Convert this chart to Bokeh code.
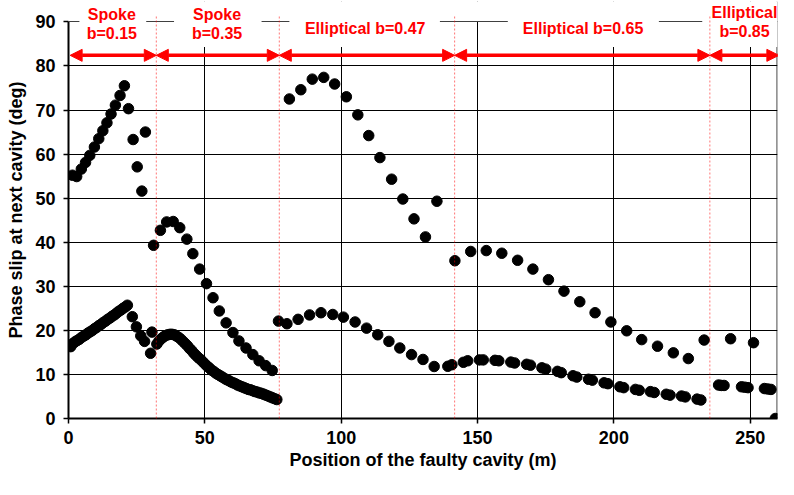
from bokeh.plotting import figure
from bokeh.models import Label, Arrow, NormalHead, FixedTicker, Span, BoxAnnotation
from bokeh.embed import file_html
from bokeh.resources import INLINE

# ---------------- data ----------------
# upper series (one point per cavity)
upper_x = [1.45, 3.0, 4.7, 6.25, 7.8, 9.5, 11.1, 12.6, 14.1, 15.6, 17.2, 18.9, 20.5, 22.0, 23.7, 25.2, 26.9, 28.2,
           31.2, 33.7, 36.0, 38.4, 40.8, 43.4, 45.6, 48.1, 50.6, 53.0, 55.3, 57.8, 60.3, 62.5, 65.1, 67.6, 69.9, 72.3, 74.7,
           81.0, 85.2, 89.4, 93.6, 97.6, 101.9, 106.1, 110.1, 114.2, 118.5, 122.6, 126.7, 130.9, 135.1, 141.7,
           147.5, 153.2, 158.9, 164.7, 170.3, 176.0, 181.7, 187.5, 193.1, 198.9, 204.7, 210.2, 216.0, 221.8, 227.3, 233.1,
           242.8, 251.2]
upper_y = [55.2, 54.9, 56.6, 58.1, 59.7, 61.6, 63.5, 65.3, 67.1, 69.1, 71.1, 73.3, 75.5, 70.3, 63.3, 57.1, 51.6, 65.0,
           39.3, 42.7, 44.6, 44.7, 43.3, 40.7, 37.4, 33.9, 30.6, 27.4, 24.4, 21.7, 19.5, 17.6, 16.0, 14.5, 13.1, 12.0, 10.9,
           72.5, 74.6, 77.0, 77.4, 75.9, 73.0, 68.9, 64.2, 59.2, 54.3, 49.8, 45.3, 41.2, 49.3, 35.8,
           37.9, 38.1, 37.5, 35.9, 33.9, 31.5, 28.9, 26.5, 24.0, 21.9, 19.9, 17.9, 16.4, 14.9, 13.6, 17.8,
           18.1, 17.2]

# lower series, spoke b=0.15
low1_x = [0.8, 1.6, 2.4, 3.2, 4.0, 4.8, 5.6, 6.4, 7.2, 8.0, 8.8, 9.6, 10.4, 11.2, 12.0, 12.8, 13.6, 14.4,
          15.2, 16.0, 16.8, 17.6, 18.4, 19.2, 20.0, 20.8, 21.6, 23.4, 24.9, 26.5, 27.9, 30.1, 30.6]
low1_y = [16.3, 17.0, 17.4, 17.7, 18.0, 18.4, 18.7, 19.0, 19.4, 19.7, 20.0, 20.4, 20.7, 21.1, 21.4, 21.8, 22.1, 22.5,
          22.8, 23.2, 23.5, 23.9, 24.3, 24.6, 25.0, 25.3, 25.7, 23.1, 20.8, 18.75, 17.5, 14.8, 19.6]

# lower series, spoke b=0.35
low2_x = [32.4, 33.2, 34.0, 34.8, 35.6, 36.4, 37.2, 38.0, 38.8, 39.6, 40.4, 41.2, 42.0, 42.8, 43.6, 44.4,
          45.2, 46.0, 46.8, 47.6, 48.4, 49.2, 50.0, 50.8, 51.6, 52.4, 53.2, 54.0, 54.8, 55.6, 56.4, 57.2,
          58.0, 58.8, 59.6, 60.4, 61.2, 62.0, 62.8, 63.6, 64.4, 65.2, 66.0, 66.8, 67.6, 68.4, 69.2, 70.0,
          70.8, 71.6, 72.4, 73.2, 74.0, 74.8, 75.6, 76.4]
low2_y = [16.9, 17.6, 18.1, 18.5, 18.8, 19.0, 19.1, 19.1, 19.0, 18.7, 18.4, 18.0, 17.5, 17.0, 16.5, 15.9,
          15.4, 14.8, 14.3, 13.8, 13.4, 12.9, 12.4, 11.9, 11.5, 11.0, 10.7, 10.3, 10.0, 9.7, 9.4, 9.1,
          8.8, 8.6, 8.3, 8.1, 7.9, 7.6, 7.4, 7.2, 7.0, 6.8, 6.6, 6.5, 6.3, 6.1, 6.0, 5.8,
          5.7, 5.5, 5.3, 5.1, 4.9, 4.7, 4.5, 4.3]

# lower series, elliptical b=0.47
low3_x = [77.0, 80.1, 84.2, 88.4, 92.6, 96.9, 100.8, 105.1, 109.3, 113.4, 117.5, 121.5, 125.8, 130.0, 134.1]
low3_y = [22.1, 21.5, 22.5, 23.5, 24.0, 23.6, 23.0, 21.9, 20.5, 19.0, 17.5, 16.0, 14.5, 13.4, 11.8]

# lower series, elliptical b=0.65
low4_x = [139.1, 140.6, 144.8, 146.4, 150.7, 152.1, 156.4, 157.8, 162.2, 163.6, 168.0, 169.4, 173.6, 175.0,
          179.3, 180.7, 185.0, 186.4, 190.7, 192.1, 196.4, 197.8, 202.2, 203.6, 207.9, 209.3, 213.4, 214.8,
          219.2, 220.6, 224.8, 226.2, 230.5, 231.9]
low4_y = [11.85, 12.2, 12.75, 13.1, 13.3, 13.3, 13.2, 13.1, 12.8, 12.6, 12.3, 12.1, 11.5, 11.2,
          10.7, 10.4, 9.7, 9.4, 8.9, 8.7, 8.1, 7.9, 7.2, 7.0, 6.6, 6.4, 6.1, 5.9,
          5.5, 5.3, 5.1, 4.9, 4.4, 4.2]

# lower series, elliptical b=0.85
low5_x = [238.4, 239.4, 240.4, 246.8, 248.0, 249.2, 255.2, 256.4, 257.6, 259.2]
low5_y = [7.6, 7.5, 7.5, 7.2, 7.1, 7.0, 6.8, 6.7, 6.6, 0.0]

# sections
boundaries = [32.2, 77.3, 141.6, 235.2]
boundary_top = 91.45
arrow_starts = [0.6, 32.2, 77.3, 141.6, 235.2]
arrow_ends = [32.2, 77.3, 141.6, 235.2, 260.5]
label_line1 = ["Spoke", "Spoke", "Elliptical b=0.47", "Elliptical b=0.65", "Elliptical"]
label_line2 = ["b=0.15", "b=0.35", "", "", "b=0.85"]
label_x = [15.9, 54.5, 108.8, 188.7, 247.9]
label_y1 = [91.68, 91.68, 88.43, 88.43, 92.13]
label_y2 = [87.37, 87.37, None, None, 87.82]
box_left = [4.0, 38.7, 81.0, 161.1, 232.4]
box_right = [28.5, 70.8, 136.2, 216.5, 260.0]
box_bottom = 84.3
arrow_level = 82.4

x_ticks = [0, 50, 100, 150, 200, 250]
y_ticks = [0, 10, 20, 30, 40, 50, 60, 70, 80, 90]
Y_TOP = 94.62

# ---------------- figure ----------------
FONT = "Liberation Sans"
p = figure(width=778, height=479, x_range=(0, 260), y_range=(0, Y_TOP),
           output_backend="svg", toolbar_location=None,
           min_border_left=68, min_border_right=1, min_border_top=1, min_border_bottom=61)
p.background_fill_color = "white"
p.border_fill_color = "white"
p.outline_line_color = None

for ax in (p.xaxis[0], p.yaxis[0]):
    ax.axis_line_width = 2
    ax.axis_line_color = "black"
    ax.major_tick_out = 5
    ax.major_tick_in = 0
    ax.major_tick_line_width = 1.5
    ax.major_tick_line_color = "black"
    ax.minor_tick_line_color = None
    ax.major_label_text_font = FONT
    ax.major_label_text_font_size = "18px"
    ax.major_label_text_font_style = "bold"
    ax.major_label_text_color = "black"
    ax.axis_label_text_font = FONT
    ax.axis_label_text_font_size = "18px"
    ax.axis_label_text_font_style = "bold"
    ax.axis_label_text_color = "black"

p.xaxis.ticker = FixedTicker(ticks=x_ticks)
p.yaxis.ticker = FixedTicker(ticks=y_ticks)
p.yaxis.bounds = (0, 90)
p.xaxis.major_label_standoff = 7
p.yaxis.major_label_standoff = 8
p.xaxis.axis_label = "Position of the faulty cavity (m)"
p.yaxis.axis_label = "Phase slip at next cavity (deg)"
p.xaxis.axis_label_standoff = 3
p.yaxis.axis_label_standoff = 6

p.xgrid.grid_line_color = "black"
p.ygrid.grid_line_color = "black"
p.xgrid.grid_line_width = 1
p.ygrid.grid_line_width = 1

# right edge of the plot area
p.add_layout(Span(location=259.85, dimension="height", line_color="black", line_width=1))

# data points
for xs, ys in ((upper_x, upper_y), (low1_x, low1_y), (low2_x, low2_y), (low3_x, low3_y),
               (low4_x, low4_y), (low5_x, low5_y)):
    p.scatter(xs, ys, marker="circle", size=10.5, fill_color="black", line_color="black")

# blank the area above the 90 deg line
p.add_layout(BoxAnnotation(left=0, right=260, bottom=90.12, top=Y_TOP, fill_color="white", fill_alpha=1,
                           line_color=None))
# white boxes behind the section labels (hide grid lines there)
for bl, br in zip(box_left, box_right):
    p.add_layout(BoxAnnotation(left=bl, right=br, bottom=box_bottom, top=Y_TOP, fill_color="white",
                               fill_alpha=1, line_color=None))

# red dotted section boundaries
p.segment(x0=boundaries, y0=[0] * len(boundaries), x1=boundaries, y1=[boundary_top] * len(boundaries),
          line_color="red", line_dash="2 2", line_width=1, line_alpha=0.55, level="overlay")

# section labels
for t1, t2, lx, y1, y2 in zip(label_line1, label_line2, label_x, label_y1, label_y2):
    p.add_layout(Label(x=lx, y=y1, text=t1, text_align="center", text_baseline="alphabetic",
                       text_color="red", text_font=FONT, text_font_style="bold", text_font_size="16px"))
    if t2:
        p.add_layout(Label(x=lx, y=y2, text=t2, text_align="center", text_baseline="alphabetic",
                           text_color="red", text_font=FONT, text_font_style="bold", text_font_size="16px"))

# red double arrows
for xs0, xs1 in zip(arrow_starts, arrow_ends):
    p.add_layout(Arrow(x_start=xs0, y_start=arrow_level, x_end=xs1, y_end=arrow_level,
                       line_color="red", line_width=3.5,
                       start=NormalHead(size=12, fill_color="red", line_color="red"),
                       end=NormalHead(size=12, fill_color="red", line_color="red")))

open("out.html", "w").write(file_html(p, INLINE))
